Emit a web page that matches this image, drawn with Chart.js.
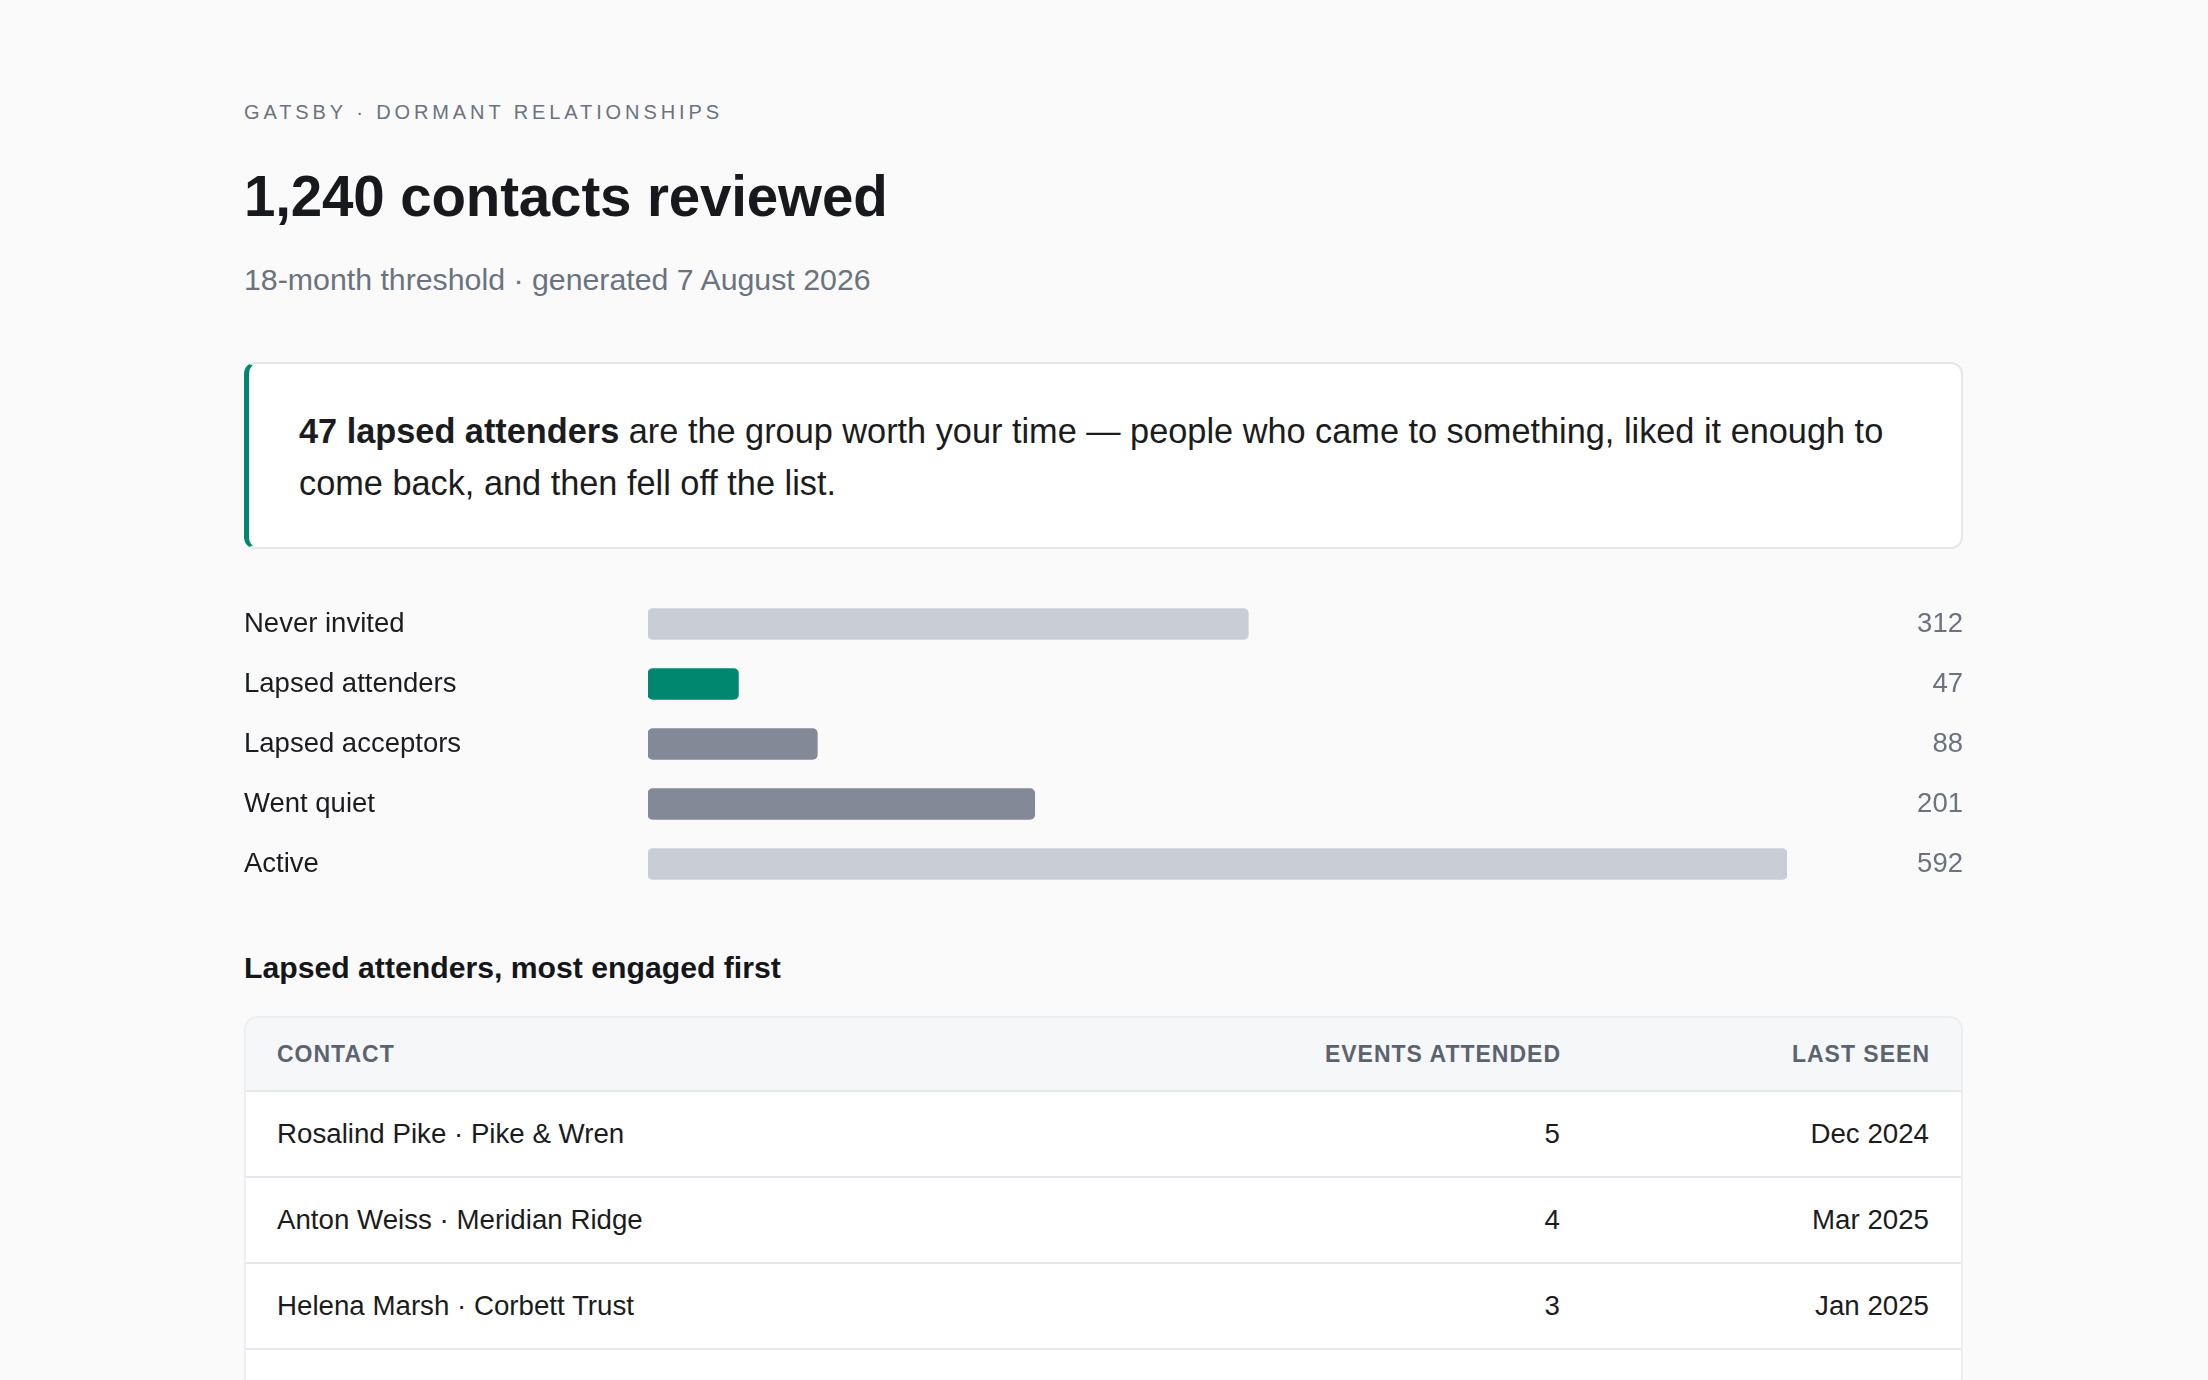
<!DOCTYPE html>
<html>
<head>
<meta charset="utf-8">
<script src="https://cdn.jsdelivr.net/npm/chart.js@4/dist/chart.umd.min.js"></script>
<style>
  html, body { margin: 0; padding: 0; }
  body {
    width: 2208px; height: 1380px; overflow: hidden; position: relative;
    background: #fafafa; color: #1b1c20;
    font-family: "Liberation Sans", Arial, Helvetica, sans-serif;
  }
  .blk { position: absolute; left: 244px; width: 1719px; }
  .eyebrow { top: 102px; font-size: 20px; line-height: 20px; letter-spacing: 3.9px; color: #6b7280; text-transform: uppercase; }
  h1 { margin: 0; top: 168px; font-size: 56.5px; line-height: 57px; font-weight: 700; letter-spacing: -0.15px; color: #18191d; }
  .sub { top: 265px; font-size: 30.3px; line-height: 30px; color: #6b7280; }
  .callout {
    top: 362px; box-sizing: border-box; background: #fff;
    border: 2px solid #e4e7eb; border-left: 5px solid #00876f; border-radius: 12px;
    padding: 41px 40px 38px 50px; font-size: 34.3px; line-height: 52px; color: #1b1c20;
  }
  .callout b { font-weight: 700; }
  .chartbox { top: 594px; height: 300px; }
  h2 { margin: 0; top: 953px; font-size: 30.2px; line-height: 30px; font-weight: 700; color: #15161a; }
  .tablewrap {
    top: 1016px; box-sizing: border-box; border: 2px solid #eceef1; border-radius: 14px;
    overflow: hidden; background: #fff;
  }
  table { width: 100%; border-collapse: separate; border-spacing: 0; table-layout: fixed; }
  th {
    height: 72px; padding: 0 32px 0 31px; background: #f6f7f9; border-bottom: 2px solid #e5e8ec;
    font-size: 23px; line-height: 23px; font-weight: 700; letter-spacing: 1px; color: #5c6370;
    text-transform: uppercase; text-align: left; vertical-align: middle;
  }
  td {
    height: 84px; padding: 0 32px 0 31px; border-bottom: 2px solid #e5e8ec;
    font-size: 27.7px; line-height: 28px; color: #1b1c20; vertical-align: middle;
  }
  .num { text-align: right; }
  th.num { padding-right: 31px; }
</style>
</head>
<body>
<div class="blk eyebrow" id="eyebrow"></div>
<h1 class="blk" id="title"></h1>
<div class="blk sub" id="subtitle"></div>
<div class="blk callout" id="callout"></div>
<div class="blk chartbox"><canvas id="bars"></canvas></div>
<h2 class="blk" id="tableTitle"></h2>
<div class="blk tablewrap">
  <table>
    <colgroup><col><col style="width:420px"><col style="width:369px"></colgroup>
    <thead><tr id="thead"></tr></thead>
    <tbody id="tbody"></tbody>
  </table>
</div>
<script>
// ---- text ----
const eyebrowText = 'GATSBY · DORMANT RELATIONSHIPS';
const titleText = '1,240 contacts reviewed';
const subtitleText = '18-month threshold · generated 7 August 2026';
const calloutBold = '47 lapsed attenders';
const calloutLine1 = ' are the group worth your time — people who came to something, liked it enough to';
const calloutLine2 = 'come back, and then fell off the list.';
const tableTitle = 'Lapsed attenders, most engaged first';

// ---- bar chart data ----
const categories = ['Never invited', 'Lapsed attenders', 'Lapsed acceptors', 'Went quiet', 'Active'];
const counts = [312, 47, 88, 201, 592];
const groupKind = ['neutral', 'focus', 'lapsed', 'lapsed', 'neutral'];

// ---- table data ----
const tableHeaders = ['Contact', 'Events attended', 'Last seen'];
const contacts = ['Rosalind Pike · Pike & Wren', 'Anton Weiss · Meridian Ridge', 'Helena Marsh · Corbett Trust'];
const eventsAttended = [5, 4, 3];
const lastSeen = ['Dec 2024', 'Mar 2025', 'Jan 2025'];

// ---- styles ----
const kindColor = { neutral: '#c9cdd6', focus: '#00876f', lapsed: '#838996' };
const FONT = '"Liberation Sans", Arial, Helvetica, sans-serif';
const LABEL_SIZE = 27.5;
const LABEL_COL = 404;   // width of the label column
const VALUE_COL = 176;   // width reserved for the value column

document.getElementById('eyebrow').textContent = eyebrowText;
document.getElementById('title').textContent = titleText;
document.getElementById('subtitle').textContent = subtitleText;
const co = document.getElementById('callout');
const b = document.createElement('b'); b.textContent = calloutBold;
const s1 = document.createElement('span'); s1.textContent = calloutLine1;
const s2 = document.createElement('span'); s2.textContent = calloutLine2;
co.appendChild(b); co.appendChild(s1); co.appendChild(document.createElement('br')); co.appendChild(s2);
document.getElementById('tableTitle').textContent = tableTitle;

const thead = document.getElementById('thead');
tableHeaders.forEach((h, i) => {
  const th = document.createElement('th'); th.textContent = h;
  if (i > 0) th.className = 'num';
  thead.appendChild(th);
});
const tbody = document.getElementById('tbody');
contacts.forEach((c, i) => {
  const tr = document.createElement('tr');
  [c, String(eventsAttended[i]), lastSeen[i]].forEach((v, j) => {
    const td = document.createElement('td'); td.textContent = v;
    if (j > 0) td.className = 'num';
    tr.appendChild(td);
  });
  tbody.appendChild(tr);
});
// spacer row continuing below the visible area
const spacer = document.createElement('tr');
for (let j = 0; j < 3; j++) spacer.appendChild(document.createElement('td'));
tbody.appendChild(spacer);

// ---- chart ----
const mctx = document.createElement('canvas').getContext('2d');
mctx.font = LABEL_SIZE + 'px ' + FONT;
const widestLabel = Math.max(...categories.map(c => mctx.measureText(c).width));

const valueLabels = {
  id: 'valueLabels',
  afterDatasetsDraw(chart) {
    const { ctx, width } = chart;
    const ds = chart.data.datasets[0];
    const meta = chart.getDatasetMeta(0);
    ctx.save();
    ctx.font = LABEL_SIZE + 'px ' + FONT;
    ctx.fillStyle = '#6b7280';
    ctx.textAlign = 'right';
    ctx.textBaseline = 'middle';
    meta.data.forEach((bar, i) => ctx.fillText(String(ds.data[i]), width, bar.y));
    ctx.restore();
  }
};

new Chart(document.getElementById('bars'), {
  type: 'bar',
  data: {
    labels: categories,
    datasets: [{
      data: counts,
      backgroundColor: groupKind.map(k => kindColor[k]),
      borderRadius: 5,
      borderSkipped: false,
      barThickness: 31
    }]
  },
  options: {
    indexAxis: 'y',
    responsive: true,
    maintainAspectRatio: false,
    animation: false,
    layout: { padding: { left: 0, right: VALUE_COL, top: 0, bottom: 0 } },
    scales: {
      x: { display: false, min: 0, max: Math.max(...counts) },
      y: {
        grid: { display: false, drawTicks: false },
        border: { display: false },
        ticks: {
          crossAlign: 'far',
          padding: LABEL_COL - widestLabel,
          color: '#1b1c20',
          font: { family: FONT, size: LABEL_SIZE }
        },
        afterFit(scale) {
          scale.width = LABEL_COL;
          scale.paddingTop = 0;
          scale.paddingBottom = 0;
        }
      }
    },
    plugins: { legend: { display: false }, tooltip: { enabled: false } }
  },
  plugins: [valueLabels]
});
</script>
</body>
</html>
